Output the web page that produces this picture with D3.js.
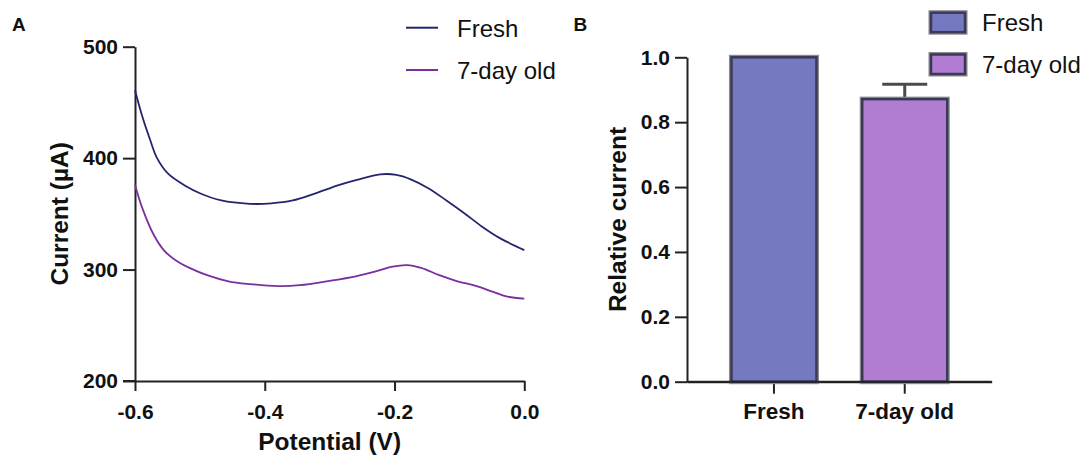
<!DOCTYPE html>
<html>
<head>
<meta charset="utf-8">
<script src="https://cdn.jsdelivr.net/npm/d3@7"></script>
<style>
  body { margin: 0; background: #fff; }
  svg { display: block; font-family: "Liberation Sans", Arial, sans-serif; }
  .axis path, .axis line { stroke: #222; stroke-width: 2; }
</style>
</head>
<body>
<div id="chart"></div>
<script>
// panel A: voltammograms
const potential = [-0.6, -0.588, -0.577, -0.566, -0.549, -0.522, -0.5, -0.467, -0.423, -0.39, -0.357, -0.324, -0.285, -0.258, -0.222, -0.197, -0.175, -0.148, -0.12, -0.092, -0.065, -0.037, 0];
const freshCurrent = [461, 436, 417, 400, 386, 375, 368.5, 362, 359, 359.4, 362, 368, 376, 380.5, 385.5, 385, 381, 373, 362, 350.4, 338.5, 328, 317.5];
const potentialOld = [-0.6, -0.588, -0.571, -0.555, -0.538, -0.516, -0.489, -0.456, -0.423, -0.379, -0.346, -0.302, -0.258, -0.225, -0.203, -0.181, -0.159, -0.131, -0.103, -0.076, -0.048, -0.026, 0];
const oldCurrent = [376, 354, 331, 317, 308.6, 301.5, 295, 289.5, 287, 285.2, 286, 289.7, 294.2, 299, 302.6, 304, 301.5, 295, 289.5, 285.5, 280, 275.7, 274];
const xTicksA = [-0.6, -0.4, -0.2, 0.0];
const yTicksA = [200, 300, 400, 500];

// panel B: relative current
const groups = ["Fresh", "7-day old"];
const relCurrent = [1.0, 0.871];
const relError = [0, 0.046];
const yTicksB = [0, 0.2, 0.4, 0.6, 0.8, 1.0];

const lineColors = ["#25256f", "#7b2e9e"];
const barColors = ["#7479c0", "#b07dd2"];

const W = 1087, H = 456;
const svg = d3.select("#chart").append("svg").attr("width", W).attr("height", H);
const fmt1 = d => d.toFixed(1); // plain hyphen minus like the original

const styleAxis = (g, size) => {
  g.attr("font-family", null).attr("font-size", null);
  g.selectAll("text").attr("font-size", size).attr("font-weight", "bold").attr("fill", "#111");
};

// ---------- A ----------
const xA = d3.scaleLinear().domain([-0.6, 0]).range([135, 524.3]);
const yA = d3.scaleLinear().domain([200, 500]).range([381, 46.7]);

svg.append("g").attr("class", "axis")
  .attr("transform", `translate(0,${yA(200)})`)
  .call(d3.axisBottom(xA).tickValues(xTicksA).tickFormat(fmt1).tickSize(10).tickSizeOuter(0).tickPadding(13))
  .call(g => styleAxis(g, 21));
svg.append("g").attr("class", "axis")
  .attr("transform", `translate(${xA(-0.6)},0)`)
  .call(d3.axisLeft(yA).tickValues(yTicksA).tickSize(12).tickSizeOuter(0).tickPadding(5))
  .call(g => styleAxis(g, 21));
// x axis line reaches the 200 tick
svg.append("line").attr("x1", 123).attr("x2", xA(-0.6)).attr("y1", yA(200)).attr("y2", yA(200))
  .attr("stroke", "#222").attr("stroke-width", 2);

const line = d3.line().curve(d3.curveCatmullRom.alpha(0.5)).x(d => xA(d[0])).y(d => yA(d[1]));
const seriesA = [
  { name: "Fresh", pts: potential.map((p, i) => [p, freshCurrent[i]]) },
  { name: "7-day old", pts: potentialOld.map((p, i) => [p, oldCurrent[i]]) }
];
seriesA.forEach((s, i) => {
  svg.append("path").attr("d", line(s.pts)).attr("fill", "none")
    .attr("stroke", lineColors[i]).attr("stroke-width", 1.8);
});

svg.append("text").text("Current (µA)")
  .attr("transform", `translate(68,${(yA(200) + yA(500)) / 2}) rotate(-90)`)
  .attr("text-anchor", "middle").attr("font-size", 24.5).attr("font-weight", "bold").attr("fill", "#111");
svg.append("text").text("Potential (V)")
  .attr("x", (xA(-0.6) + xA(0)) / 2).attr("y", 450)
  .attr("text-anchor", "middle").attr("font-size", 24.5).attr("font-weight", "bold").attr("fill", "#111");

// legend A
seriesA.forEach((s, i) => {
  const y = 27.7 + i * 42.3;
  svg.append("line").attr("x1", 406).attr("x2", 438).attr("y1", y).attr("y2", y)
    .attr("stroke", lineColors[i]).attr("stroke-width", 2);
  svg.append("text").text(s.name).attr("x", 457).attr("y", y + 8.8)
    .attr("font-size", 24).attr("fill", "#111");
});

svg.append("text").text("A").attr("x", 12).attr("y", 31)
  .attr("font-size", 19).attr("font-weight", "bold").attr("fill", "#111");

// ---------- B ----------
const xB = d3.scaleBand().domain(groups).range([687, 991.7]).paddingInner(0.35).paddingOuter(0.34);
const yB = d3.scaleLinear().domain([0, 1]).range([381.7, 57.3]);

svg.append("g").attr("class", "axis")
  .attr("transform", `translate(0,${yB(0)})`)
  .call(d3.axisBottom(xB).tickSize(12).tickSizeOuter(0).tickPadding(9))
  .call(g => styleAxis(g, 22.5));
svg.append("g").attr("class", "axis")
  .attr("transform", `translate(${xB.range()[0]},0)`)
  .call(d3.axisLeft(yB).tickValues(yTicksB).tickFormat(fmt1).tickSize(12).tickSizeOuter(0).tickPadding(5))
  .call(g => styleAxis(g, 21));

const bars = svg.append("g");
groups.forEach((g, i) => {
  const x = xB(g), w = xB.bandwidth();
  const top = yB(relCurrent[i]);
  if (relError[i] > 0) {
    const cx = x + w / 2, yTop = yB(relCurrent[i] + relError[i]);
    bars.append("line").attr("x1", cx).attr("x2", cx).attr("y1", top).attr("y2", yTop)
      .attr("stroke", "#4a4a4a").attr("stroke-width", 3);
    bars.append("line").attr("x1", cx - 22.5).attr("x2", cx + 22.5).attr("y1", yTop).attr("y2", yTop)
      .attr("stroke", "#4a4a4a").attr("stroke-width", 3);
  }
  bars.append("rect").attr("x", x).attr("y", top).attr("width", w).attr("height", yB(0) - top)
    .attr("fill", barColors[i]).attr("stroke", "#8a8a90").attr("stroke-width", 5);
  bars.append("rect").attr("x", x).attr("y", top).attr("width", w).attr("height", yB(0) - top)
    .attr("fill", barColors[i]).attr("stroke", "#3a3a56").attr("stroke-width", 2.5);
});
// redraw baseline on top of the bars
svg.append("line").attr("x1", 687).attr("x2", 991.7).attr("y1", yB(0)).attr("y2", yB(0))
  .attr("stroke", "#222").attr("stroke-width", 2);

svg.append("text").text("Relative current")
  .attr("transform", `translate(625.5,${(yB(0) + yB(1)) / 2}) rotate(-90)`)
  .attr("text-anchor", "middle").attr("font-size", 24.5).attr("font-weight", "bold").attr("fill", "#111");

// legend B
groups.forEach((g, i) => {
  const y = 12.7 + i * 41.8;
  svg.append("rect").attr("x", 931).attr("y", y).attr("width", 34).attr("height", 19.5)
    .attr("fill", barColors[i]).attr("stroke", "#8a8a90").attr("stroke-width", 5);
  svg.append("rect").attr("x", 931).attr("y", y).attr("width", 34).attr("height", 19.5)
    .attr("fill", barColors[i]).attr("stroke", "#3a3a56").attr("stroke-width", 2.5);
  svg.append("text").text(g).attr("x", 982).attr("y", y + 18.5)
    .attr("font-size", 24).attr("fill", "#111");
});

svg.append("text").text("B").attr("x", 573.5).attr("y", 31)
  .attr("font-size", 19).attr("font-weight", "bold").attr("fill", "#111");
</script>
</body>
</html>
